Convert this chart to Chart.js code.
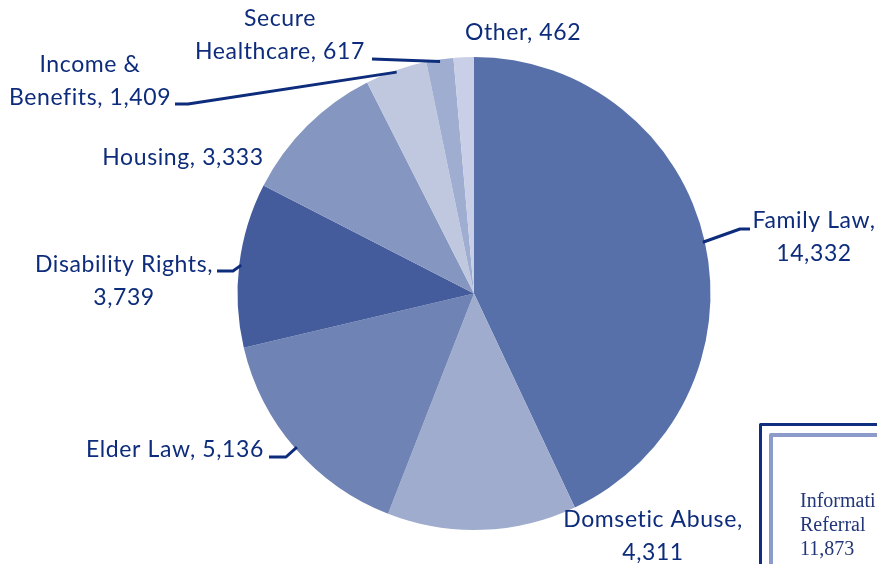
<!DOCTYPE html>
<html>
<head>
<meta charset="utf-8">
<script src="https://cdn.jsdelivr.net/npm/chart.js@4.4.0/dist/chart.umd.min.js"></script>
<style>
  html, body { margin: 0; padding: 0; background: #fff; }
  #wrap { width: 877px; height: 564px; position: relative; }
</style>
</head>
<body>
<div id="wrap"><canvas id="pie" width="877" height="564"></canvas></div>
<script>
// data
const categories = ['Family Law', 'Domsetic Abuse', 'Elder Law', 'Disability Rights',
  'Housing', 'Income & Benefits', 'Secure Healthcare', 'Other'];
const cases = [14332, 4311, 5136, 3739, 3333, 1409, 617, 462];
const labelLines = [
  ['Family Law,', '14,332'],
  ['Domsetic Abuse,', '4,311'],
  ['Elder Law, 5,136'],
  ['Disability Rights,', '3,739'],
  ['Housing, 3,333'],
  ['Income &', 'Benefits, 1,409'],
  ['Secure', 'Healthcare, 617'],
  ['Other, 462'],
];
const sideBox = ['Informati', 'Referral', '11,873'];

const sliceColors = ['#5870a9', '#9facce', '#6f83b4', '#445c9c', '#8597c1', '#c0c8e0', '#9eadd0', '#c8cfe6'];
const navy = '#0e2c7c';

// label block placement: centre x, first baseline, leader path after the slice edge
const labelPos = [
  { x: 814, y: 228, path: [[740, 229], [750, 229]] },
  { x: 653, y: 527, path: null },
  { x: 175, y: 457, path: [[286, 457], [269, 457]] },
  { x: 124, y: 272, path: [[233, 271], [217, 271]] },
  { x: 183, y: 165, path: null },
  { x: 90,  y: 72,  path: [[188, 104], [175, 104]] },
  { x: 280, y: 26,  path: [[372, 59]] },
  { x: 523, y: 40,  path: null },
];

const labelsPlugin = {
  id: 'sliceLabels',
  afterDatasetsDraw(chart) {
    const ctx = chart.ctx;
    const arcs = chart.getDatasetMeta(0).data;
    ctx.save();
    // leader lines
    ctx.strokeStyle = navy;
    ctx.lineWidth = 3;
    ctx.lineJoin = 'round';
    arcs.forEach((arc, i) => {
      const p = labelPos[i];
      if (!p.path) return;
      const { x, y, startAngle, endAngle, outerRadius } = arc.getProps(['x', 'y', 'startAngle', 'endAngle', 'outerRadius'], true);
      const mid = (startAngle + endAngle) / 2;
      ctx.beginPath();
      ctx.moveTo(x + Math.cos(mid) * (outerRadius - 2), y + Math.sin(mid) * (outerRadius - 2));
      p.path.forEach(pt => ctx.lineTo(pt[0], pt[1]));
      ctx.stroke();
    });
    // label text
    ctx.fillStyle = navy;
    ctx.font = '23px Lato, "Open Sans", sans-serif';
    ctx.letterSpacing = '0.6px';
    ctx.textAlign = 'center';
    ctx.textBaseline = 'alphabetic';
    labelLines.forEach((lines, i) => {
      const p = labelPos[i];
      lines.forEach((t, k) => ctx.fillText(t, p.x, p.y + k * 33));
    });
    ctx.letterSpacing = '0px';

    // boxed note cut off at lower right
    ctx.strokeStyle = '#102e80';
    ctx.lineWidth = 3;
    ctx.beginPath();
    ctx.moveTo(760.5, 600); ctx.lineTo(760.5, 424.5); ctx.lineTo(900, 424.5);
    ctx.stroke();
    ctx.strokeStyle = '#8c9cca';
    ctx.lineWidth = 4;
    ctx.beginPath();
    ctx.moveTo(771, 600); ctx.lineTo(771, 435); ctx.lineTo(900, 435);
    ctx.stroke();
    ctx.fillStyle = '#223679';
    ctx.font = '20px "Liberation Serif", "Times New Roman", serif';
    ctx.textAlign = 'left';
    sideBox.forEach((t, k) => ctx.fillText(t, 800, 507 + k * 24));
    ctx.restore();
  }
};

new Chart(document.getElementById('pie'), {
  type: 'pie',
  data: {
    labels: categories,
    datasets: [{
      data: cases,
      backgroundColor: sliceColors,
      borderWidth: 0,
    }],
  },
  options: {
    responsive: false,
    devicePixelRatio: 1,
    animation: false,
    layout: { padding: { left: 237, right: 166, top: 57, bottom: 34 } },
    plugins: { legend: { display: false }, tooltip: { enabled: false } },
  },
  plugins: [labelsPlugin],
});
</script>
</body>
</html>
